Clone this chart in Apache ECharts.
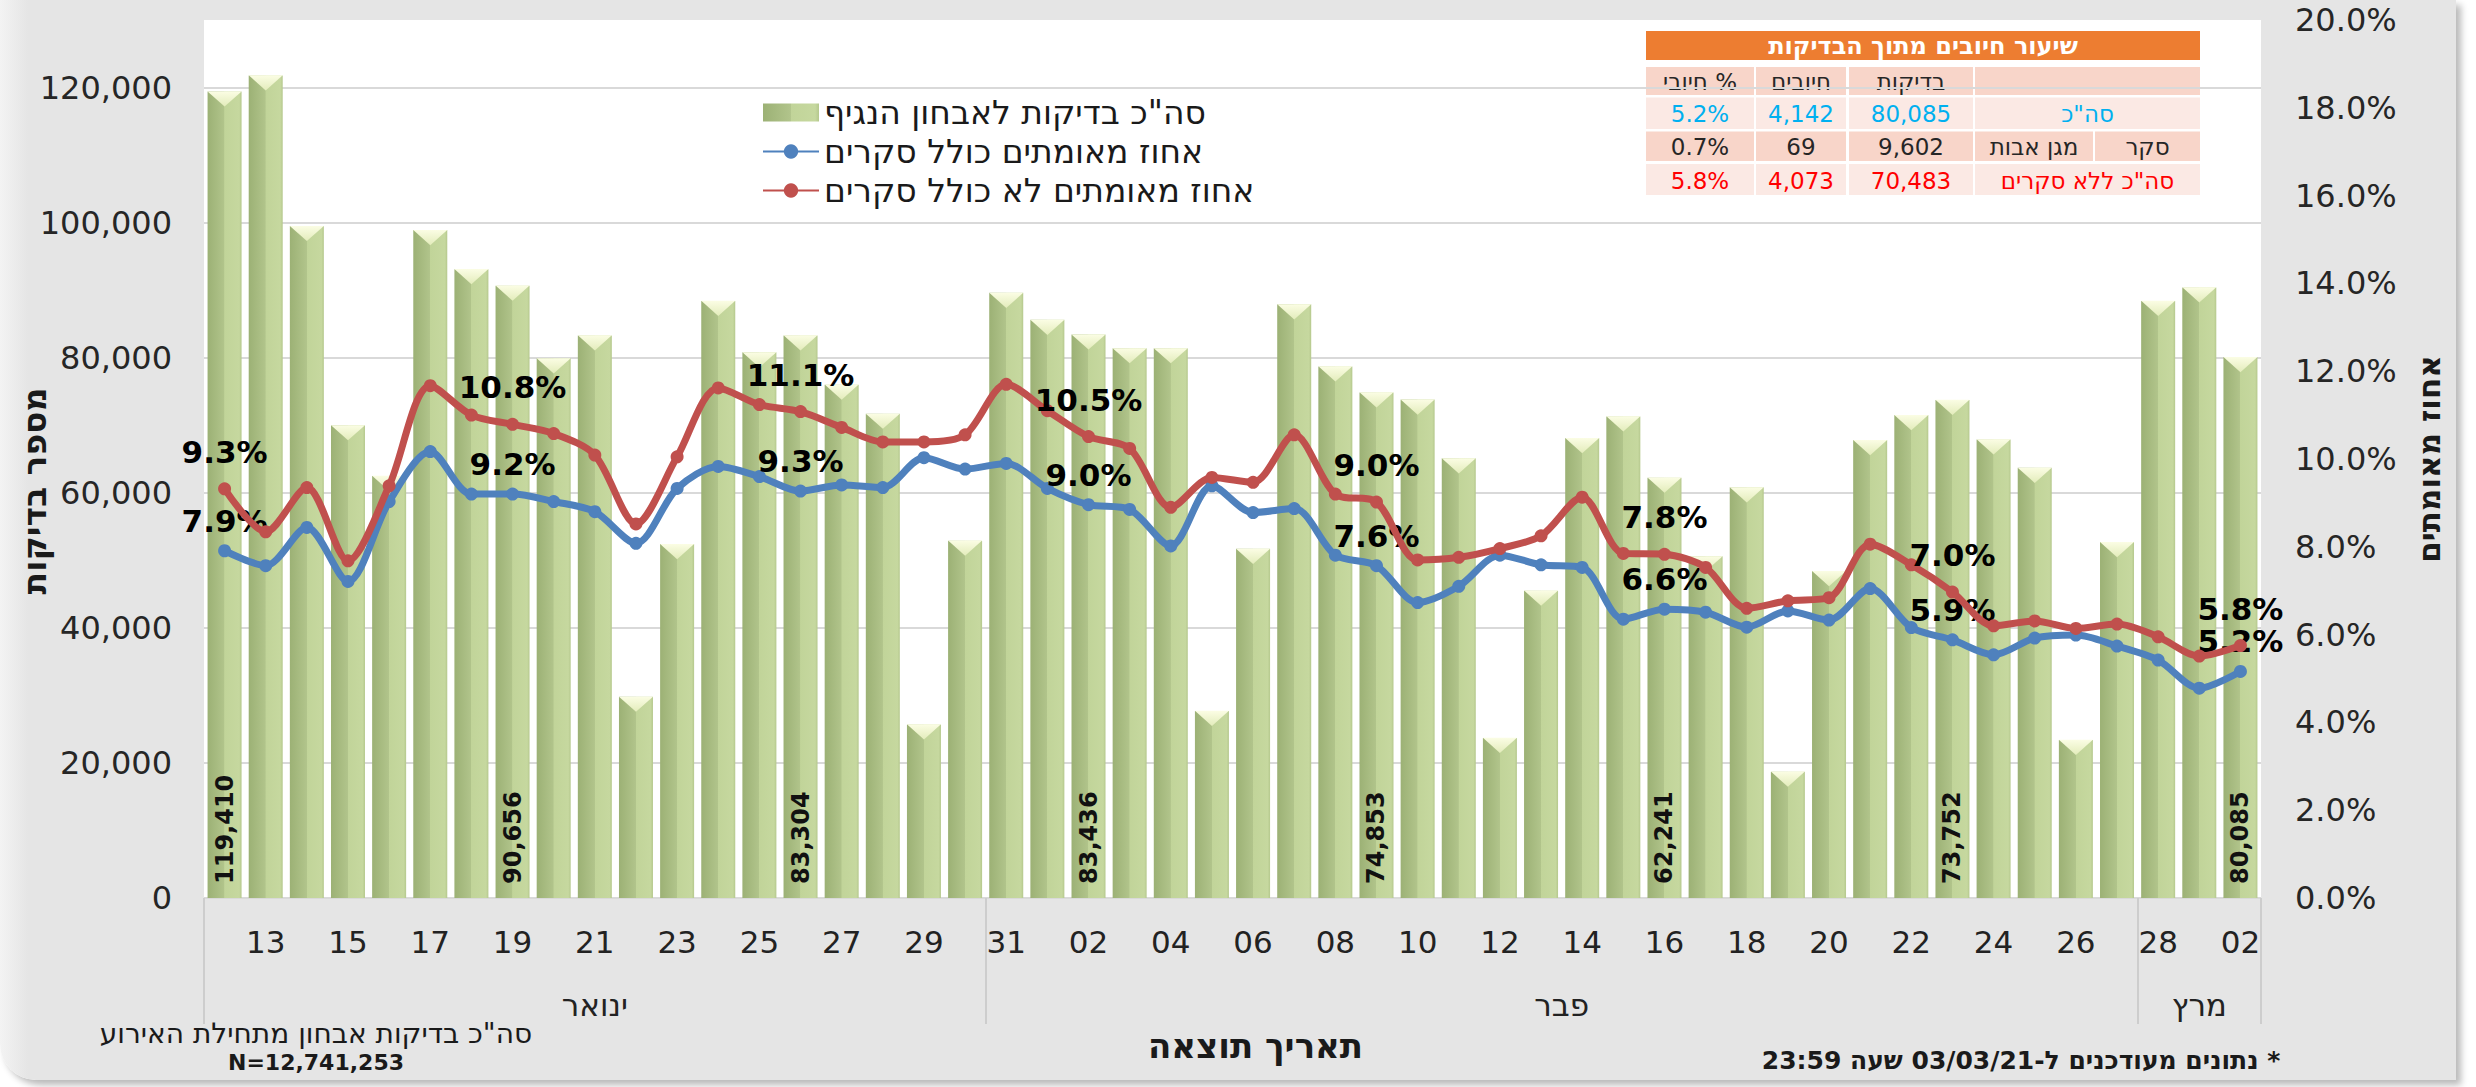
<!DOCTYPE html>
<html>
<head>
<meta charset="utf-8">
<script src="https://cdn.jsdelivr.net/npm/echarts@6/dist/echarts.min.js"></script>
<style>
  html, body { margin: 0; padding: 0; background: #fff; overflow: hidden; }
  #chart {
    position: absolute; left: 0; top: 0;
    width: 2456px; height: 1080px;
    background: linear-gradient(to right, #f3f3f3 0px, #e5e5e5 28px, #e5e5e5 100%);
    border-bottom-left-radius: 36px;
    box-shadow: 5px 5px 7px rgba(0, 0, 0, 0.28);
  }
</style>
</head>
<body>
<div id="chart"></div>
<script>
// days 12/01 .. 02/03
const days = ['12','13','14','15','16','17','18','19','20','21','22','23','24','25','26','27','28','29','30','31',
  '01','02','03','04','05','06','07','08','09','10','11','12','13','14','15','16','17','18','19','20',
  '21','22','23','24','25','26','27','28','01','02'];

// month groups as drawn in the source (start index of each group)
const months = ['ינואר', 'פבר', 'מרץ'];
const monthStart = [0, 19, 47];

// total tests per day
const tests = [119410, 121800, 99500, 70000, 62500, 98900, 93100, 90656, 79900, 83300,
  29800, 52400, 88400, 80800, 83304, 76000, 71700, 25700, 52900, 89600,
  85600, 83436, 81400, 81400, 27700, 51700, 87900, 78700, 74853, 73800,
  65100, 23700, 45500, 68100, 71300, 62241, 50600, 60800, 18700, 48400,
  67800, 71500, 73752, 67900, 63700, 23400, 52700, 88400, 90400, 80085];

// % positive incl. surveys
const posWithSurvey = [7.91, 7.57, 8.44, 7.21, 9.03, 10.17, 9.2, 9.2, 9.03, 8.8,
  8.08, 9.33, 9.83, 9.6, 9.27, 9.41, 9.35, 10.03, 9.77, 9.9,
  9.33, 8.96, 8.85, 8.02, 9.39, 8.78, 8.87, 7.81, 7.57, 6.73,
  7.1, 7.81, 7.59, 7.53, 6.35, 6.58, 6.51, 6.17, 6.54, 6.33,
  7.05, 6.16, 5.88, 5.54, 5.92, 5.99, 5.74, 5.42, 4.78, 5.16];

// % positive excl. surveys
const posNoSurvey = [9.32, 8.34, 9.35, 7.68, 9.39, 11.67, 11.0, 10.79, 10.58, 10.09,
  8.52, 10.05, 11.62, 11.24, 11.08, 10.72, 10.39, 10.39, 10.55, 11.7,
  11.1, 10.51, 10.24, 8.9, 9.58, 9.47, 10.55, 9.2, 9.02, 7.7,
  7.76, 7.96, 8.25, 9.13, 7.85, 7.83, 7.53, 6.6, 6.77, 6.84,
  8.06, 7.59, 6.97, 6.2, 6.31, 6.14, 6.24, 5.95, 5.51, 5.75];

const seriesNames = ['סה"כ בדיקות לאבחון הנגיף', 'אחוז מאומתים כולל סקרים', 'אחוז מאומתים לא כולל סקרים'];
const leftAxisName = 'מספר בדיקות';

// summary table
const tableTitle = 'שיעור חיובים מתוך הבדיקות';
const tableHeader = ['\u200F% חיובי', 'חיובים', 'בדיקות', ''];
const rowTotal = ['5.2%', '4,142', '80,085', 'סה"כ'];
const rowSurvey = ['0.7%', '69', '9,602', 'מגן אבות', 'סקר'];
const rowNoSurvey = ['5.8%', '4,073', '70,483', 'סה"כ ללא סקרים'];

const noteLines = ['סה"כ בדיקות אבחון מתחילת האירוע', 'N=12,741,253'];
const footNote = '\u200F* נתונים מעודכנים ל-03/03/21 שעה 23:59';

const FONT = '"DejaVu Sans", "Liberation Sans", sans-serif';
const LABEL_STEP = 7;

// month separators and label centres on a value axis matching the category bands
const monthEdges = monthStart.map(s => s - 0.5).concat([days.length - 0.5]);
const monthCenters = monthStart.map((s, i) => (s + (i < monthStart.length - 1 ? monthStart[i + 1] : days.length) - 1) / 2);

function buildTable() {
  const els = [];
  const colX = [[1646, 1754], [1756, 1846], [1849, 1973], [1975, 2200]];
  const rowsY = [[67, 95], [97.5, 129], [131.5, 161], [164, 195]];
  const dark = '#f8d5c9', light = '#fbe9e4';
  const cell = (x0, x1, y0, y1, fill, text, color, bold) => {
    els.push({ type: 'rect', shape: { x: x0, y: y0, width: x1 - x0, height: y1 - y0 }, style: { fill: fill } });
    if (text) {
      els.push({ type: 'text', x: (x0 + x1) / 2, y: (y0 + y1) / 2 + 1,
        style: { text: text, fill: color, font: (bold ? 'bold ' : '') + '23px ' + FONT, textAlign: 'center', textVerticalAlign: 'middle' } });
    }
  };
  els.push({ type: 'rect', shape: { x: 1646, y: 31, width: 554, height: 29 }, style: { fill: '#ed7d31' } });
  els.push({ type: 'text', x: 1923, y: 46, style: { text: tableTitle, fill: '#fff', font: 'bold 24px ' + FONT, textAlign: 'center', textVerticalAlign: 'middle' } });

  tableHeader.forEach((t, c) => cell(colX[c][0], colX[c][1], rowsY[0][0], rowsY[0][1], dark, t, '#262626'));
  rowTotal.forEach((t, c) => cell(colX[c][0], colX[c][1], rowsY[1][0], rowsY[1][1], light, t, '#00b0f0'));
  rowSurvey.slice(0, 3).forEach((t, c) => cell(colX[c][0], colX[c][1], rowsY[2][0], rowsY[2][1], dark, t, '#262626'));
  cell(1975, 2093, rowsY[2][0], rowsY[2][1], dark, rowSurvey[3], '#262626');
  cell(2095, 2200, rowsY[2][0], rowsY[2][1], dark, rowSurvey[4], '#262626');
  rowNoSurvey.forEach((t, c) => cell(colX[c][0], colX[c][1], rowsY[3][0], rowsY[3][1], light, t, '#ff0000'));

  els.push({ type: 'text', x: 316, y: 1033, style: { text: noteLines[0], fill: '#1a1a1a', font: '28px ' + FONT, textAlign: 'center', textVerticalAlign: 'middle' } });
  els.push({ type: 'text', x: 316, y: 1062, style: { text: noteLines[1], fill: '#1a1a1a', font: 'bold 22px ' + FONT, textAlign: 'center', textVerticalAlign: 'middle' } });
  els.push({ type: 'text', x: 2021, y: 1060, style: { text: footNote, fill: '#1a1a1a', font: 'bold 25px ' + FONT, textAlign: 'center', textVerticalAlign: 'middle' } });
  // left axis title, placed like the source (a little below the plot middle)
  els.push({ type: 'text', x: 34, y: 491, rotation: Math.PI / 2,
    style: { text: leftAxisName, fill: '#1a1a1a', font: 'bold 33px ' + FONT, textAlign: 'center', textVerticalAlign: 'middle' } });
  return els;
}

const chart = echarts.init(document.getElementById('chart'), null, { renderer: 'svg' });

const barColor = new echarts.graphic.LinearGradient(0, 0, 1, 0, [
  { offset: 0, color: '#9cb175' },
  { offset: 0.49, color: '#b1c48b' },
  { offset: 0.5, color: '#c1d499' },
  { offset: 0.93, color: '#c6d89f' },
  { offset: 1, color: '#b5c88d' }
]);
const capColor = new echarts.graphic.LinearGradient(0, 0, 0, 1, [
  { offset: 0, color: '#fbfde4' },
  { offset: 1, color: '#e3ecbb' }
]);

function pctLabel(distance) {
  return {
    show: true, position: 'top', distance: distance,
    fontFamily: FONT, fontSize: 31, fontWeight: 'bold', color: '#000',
    formatter: p => (p.dataIndex % LABEL_STEP === 0 ? p.value.toFixed(1) + '%' : '')
  };
}

const option = {
  animation: false,
  textStyle: { fontFamily: FONT },
  grid: { left: 204, right: 195, top: 20, bottom: 182, outerBoundsMode: 'none', show: true, backgroundColor: '#fff', borderWidth: 0 },
  legend: {
    orient: 'vertical', left: 757, top: 91,
    itemWidth: 56, itemHeight: 18, itemGap: 6,
    data: [{ name: seriesNames[0], icon: 'rect' }, seriesNames[1], seriesNames[2]],
    textStyle: { fontFamily: FONT, fontSize: 33, color: '#1a1a1a' }
  },
  graphic: buildTable(),
  xAxis: [
    {
      type: 'category', data: days,
      axisLine: { show: false }, axisTick: { show: false },
      axisLabel: { interval: i => i % 2 === 1, fontFamily: FONT, fontSize: 31, color: '#222', margin: 28 }
    },
    {
      type: 'value', min: -0.5, max: days.length - 0.5, position: 'bottom',
      axisLine: { show: false }, splitLine: { show: false },
      axisTick: { show: true, customValues: monthEdges, length: 126, lineStyle: { color: '#cdcdcd', width: 2 } },
      axisLabel: {
        customValues: monthCenters, margin: 91, fontFamily: FONT, fontSize: 31, color: '#222',
        formatter: v => months[monthCenters.indexOf(v)] || ''
      },
      name: 'תאריך תוצאה', nameLocation: 'middle', nameGap: 131,
      nameTextStyle: { fontFamily: FONT, fontSize: 34, fontWeight: 'bold', color: '#1a1a1a', padding: [0, 0, 0, 46] }
    }
  ],
  yAxis: [
    {
      type: 'value', min: 0, max: 130000, interval: 20000,
      axisLine: { show: false }, axisTick: { show: false },
      axisLabel: { showMaxLabel: false, margin: 32, fontFamily: FONT, fontSize: 32, color: '#262626',
        formatter: v => v.toLocaleString('en-US') },
      splitLine: { show: true, showMaxLine: false, lineStyle: { color: '#d9d9d9', width: 2 } }
    },
    {
      type: 'value', min: 0, max: 20, interval: 2, position: 'right',
      axisLine: { show: false }, axisTick: { show: false },
      axisLabel: { margin: 34, fontFamily: FONT, fontSize: 32, color: '#262626', formatter: v => v.toFixed(1) + '%' },
      splitLine: { show: false },
      name: 'אחוז מאומתים', nameLocation: 'middle', nameRotate: 90, nameGap: 152,
      nameTextStyle: { fontFamily: FONT, fontSize: 31, fontWeight: 'bold', color: '#1a1a1a' }
    }
  ],
  series: [
    {
      name: seriesNames[0], type: 'bar', data: tests, barWidth: 34,
      itemStyle: { color: barColor },
      label: {
        show: true, position: 'insideBottom', rotate: 90, align: 'left', verticalAlign: 'middle', distance: 14,
        fontFamily: FONT, fontSize: 24, fontWeight: 'bold', color: '#111',
        formatter: p => (p.dataIndex % LABEL_STEP === 0 ? p.value.toLocaleString('en-US') : '')
      },
      z: 2
    },
    {
      name: 'cap', type: 'pictorialBar', data: tests,
      symbol: 'path://M0,0 L10,0 L5,10 Z', symbolSize: [34, 15], symbolPosition: 'end', symbolOffset: [0, 0],
      itemStyle: { color: capColor }, silent: true, legendHoverLink: false, z: 3
    },
    {
      name: seriesNames[1], type: 'line', yAxisIndex: 1, data: posWithSurvey, smooth: 0.3,
      symbol: 'circle', symbolSize: 13,
      lineStyle: { width: 7, color: '#4f81bd' }, itemStyle: { color: '#4f81bd' },
      label: pctLabel(8), z: 5
    },
    {
      name: seriesNames[2], type: 'line', yAxisIndex: 1, data: posNoSurvey, smooth: 0.3,
      symbol: 'circle', symbolSize: 13,
      lineStyle: { width: 7, color: '#c0504d' }, itemStyle: { color: '#c0504d' },
      label: pctLabel(15), z: 6
    }
  ]
};

chart.setOption(option);
window.addEventListener('resize', () => chart.resize());
</script>
</body>
</html>
